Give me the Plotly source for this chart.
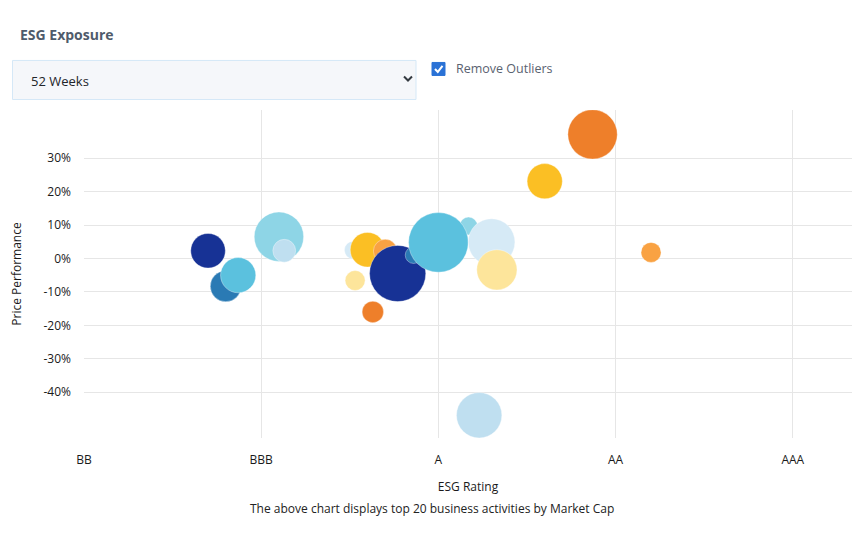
import plotly.graph_objects as go

# ESG rating scale (BB=0 ... AAA=4)
rating_labels = ['BB', 'BBB', 'A', 'AA', 'AAA']
rating_ticks = [0, 1, 2, 3, 4]

# price performance ticks (%)
perf_ticks = [-40, -30, -20, -10, 0, 10, 20, 30]
perf_labels = ['-40%', '-30%', '-20%', '-10%', '0%', '10%', '20%', '30%']

# top 20 business activities (drawing order matters for overlaps)
esg_score = [0.70, 0.80, 0.87, 1.10, 1.13, 1.52, 1.60, 1.70, 1.53, 1.63,
             1.77, 1.86, 2.17, 2.00, 2.30, 2.33, 2.23, 2.60, 2.87, 3.20]
price_perf = [2.3, -8.3, -5.0, 6.5, 2.3, 2.5, 2.6, 2.2, -6.6, -16.0,
              -4.5, 1.0, 9.7, 4.8, 4.9, -3.4, -46.9, 23.1, 37.1, 1.8]
market_cap = [60, 48, 62, 122, 26, 16, 60, 28, 20, 23,
              158, 14, 16, 178, 109, 81, 103, 62, 122, 20]
colors = ['#173295', '#2a7ab4', '#5bc1de', '#8ed5e6', '#bfdff0', '#d6eaf6',
          '#fbbf24', '#f9a243', '#fde59b', '#ee7f2a', '#173295', '#2a7ab4',
          '#8ed5e6', '#5bc1de', '#d6eaf6', '#fde59b', '#bfdff0', '#fbbf24',
          '#ee7f2a', '#f9a243']

FONT = 'Open Sans'

# plot area in page pixels, used to place the header widgets
# (the page body has an 8px margin, so the figure is 16px smaller)
L, R, T, B = 84, 852, 110, 437.7
OFF = 8
W, H = 864 - 2 * OFF, 536 - 2 * OFF


def fx(p):
    return (p - L) / (R - L)


def fy(p):
    return (B - p) / (B - T)


fig = go.Figure()
fig.add_trace(go.Scatter(
    x=esg_score, y=price_perf, mode='markers',
    marker=dict(size=market_cap, sizemode='area', sizeref=0.1,
                color=colors, opacity=1,
                line=dict(color='rgba(255,255,255,0.6)', width=0.6)),
    hoverinfo='skip', showlegend=False,
))

shapes = [
    # dropdown box
    dict(type='rect', xref='paper', yref='paper', x0=fx(12.5), x1=fx(416), y0=fy(60.5), y1=fy(99.5),
         fillcolor='#f5f7fa', line=dict(color='#d5e8f7', width=1), layer='above'),
    # chevron
    dict(type='path', xref='paper', yref='paper',
         path=f'M {fx(404)} {fy(76.5)} L {fx(408)} {fy(80.5)} L {fx(412)} {fy(76.5)}',
         line=dict(color='#343a40', width=2)),
    # checkbox
    dict(type='rect', xref='paper', yref='paper', x0=fx(432), x1=fx(445), y0=fy(62.5), y1=fy(75.5),
         fillcolor='#2a72d6', line=dict(color='#2a72d6', width=1)),
    dict(type='path', xref='paper', yref='paper',
         path=f'M {fx(435)} {fy(69)} L {fx(437.8)} {fy(72)} L {fx(442.5)} {fy(66)}',
         line=dict(color='white', width=2)),
]

annotations = [
    dict(text='<b>ESG Exposure</b>', x=fx(18), y=fy(35), xref='paper', yref='paper',
         xanchor='left', yanchor='middle', showarrow=False,
         font=dict(family=FONT, size=14, color='#4f5b6b')),
    dict(text='52 Weeks', x=fx(28.5), y=fy(81), xref='paper', yref='paper',
         xanchor='left', yanchor='middle', showarrow=False,
         font=dict(family=FONT, size=13, color='#212529')),
    dict(text='Remove Outliers', x=fx(454), y=fy(69), xref='paper', yref='paper',
         xanchor='left', yanchor='middle', showarrow=False,
         font=dict(family=FONT, size=12.5, color='#5a6270')),
    dict(text='The above chart displays top 20 business activities by Market Cap',
         x=fx(432), y=fy(508), xref='paper', yref='paper',
         xanchor='center', yanchor='middle', showarrow=False,
         font=dict(family=FONT, size=12, color='#222222')),
]

fig.update_layout(
    width=W, height=H,
    margin=dict(l=L - OFF, r=W - (R - OFF), t=T - OFF, b=H - (B - OFF)),
    paper_bgcolor='white', plot_bgcolor='white',
    font=dict(family=FONT, size=12, color='#1a1a1a'),
    shapes=shapes, annotations=annotations,
)
fig.update_xaxes(
    range=[0, 4.334], tickvals=rating_ticks, ticktext=rating_labels,
    showgrid=True, gridcolor='#e6e6e6', gridwidth=1, zeroline=False,
    showline=False, ticklabelstandoff=13,
    title=dict(text='ESG Rating', standoff=15, font=dict(size=12)),
)
fig.update_yaxes(
    range=[-53.7, 44.4], tickvals=perf_ticks, ticktext=perf_labels,
    showgrid=True, gridcolor='#e6e6e6', gridwidth=1, zeroline=False,
    showline=False, ticklabelstandoff=12,
    title=dict(text='Price Performance', standoff=24, font=dict(size=12)),
)

fig.write_html('out.html')
